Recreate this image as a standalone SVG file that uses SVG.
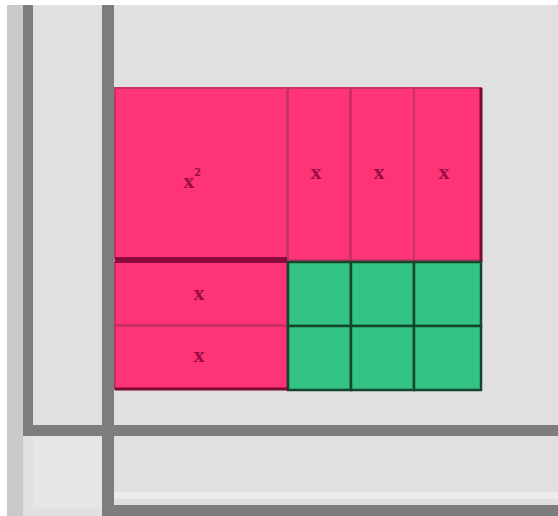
<svg xmlns="http://www.w3.org/2000/svg" width="558" height="516" viewBox="0 0 558 516">
<style>
.frame{fill:#7d7d7d}
.pink{fill:#ff3377;stroke:#c8306a;stroke-width:2}
.green{fill:#33c485;stroke:#16452c;stroke-width:2.5}
.lbl{font-family:"Liberation Serif","DejaVu Serif",serif;font-size:22px;font-weight:bold;fill:#9a0c44;text-anchor:middle;dominant-baseline:central}
</style>
<rect x="0" y="0" width="558" height="516" fill="#ffffff"/>
<rect x="7" y="5" width="551" height="511" fill="#e0e0e0"/>
<rect x="7" y="5" width="16" height="511" fill="#cacaca"/>
<rect x="33" y="436" width="69" height="72" fill="#e6e6e6"/>
<g id="frame">
<rect class="frame" x="23" y="5" width="10" height="426"/>
<rect class="frame" x="102" y="5" width="12" height="511"/>
<rect class="frame" x="23" y="425" width="535" height="11"/>
<rect class="frame" x="102" y="505" width="456" height="11"/>
<rect x="114" y="492" width="444" height="7" fill="#ececec"/>
</g>
<g id="tile-x2">
<rect class="pink" x="115" y="88" width="172" height="171"/>
<text class="lbl" x="192" y="180">x<tspan dy="-9" font-size="13">2</tspan></text>
</g>
<g id="tile-x-col1">
<rect class="pink" x="288" y="88" width="62" height="172"/>
<text class="lbl" x="316" y="171">x</text>
</g>
<g id="tile-x-col2">
<rect class="pink" x="351" y="88" width="63" height="172"/>
<text class="lbl" x="379" y="171">x</text>
</g>
<g id="tile-x-col3">
<rect class="pink" x="414" y="88" width="67" height="172"/>
<text class="lbl" x="444" y="171">x</text>
</g>
<g id="tile-x-row1">
<rect class="pink" x="115" y="262" width="172" height="63"/>
<text class="lbl" x="199" y="292">x</text>
</g>
<g id="tile-x-row2">
<rect class="pink" x="115" y="326" width="172" height="63"/>
<text class="lbl" x="199" y="354">x</text>
</g>
<rect x="115" y="257" width="172" height="6" fill="#8a0a3a"/>
<line x1="481" y1="88" x2="481" y2="262" stroke="#7a0a35" stroke-width="3"/>
<g id="units">
<rect class="green" x="288" y="262" width="63" height="64"/>
<rect class="green" x="351" y="262" width="63" height="64"/>
<rect class="green" x="414" y="262" width="67" height="64"/>
<rect class="green" x="288" y="326" width="63" height="64"/>
<rect class="green" x="351" y="326" width="63" height="64"/>
<rect class="green" x="414" y="326" width="67" height="64"/>
</g>
<line x1="115" y1="389" x2="288" y2="389" stroke="#7a0a35" stroke-width="3"/>
</svg>
